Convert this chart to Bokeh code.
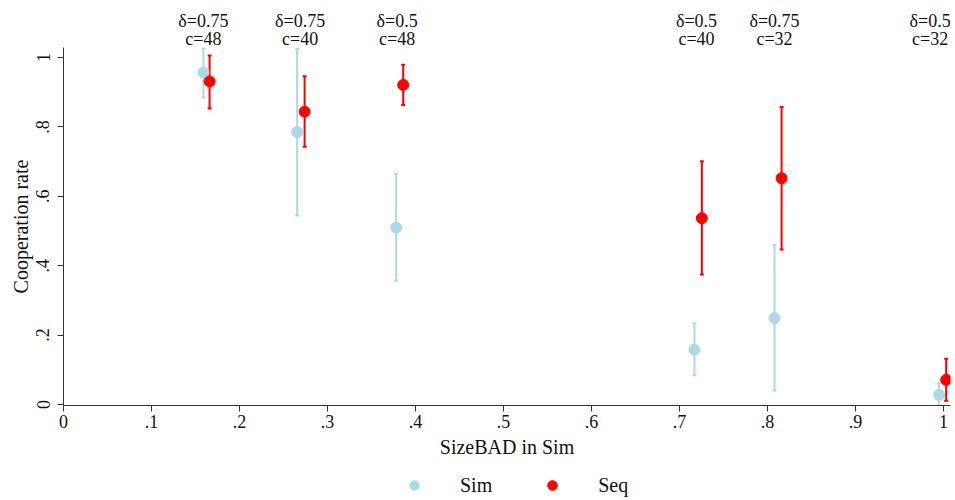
from bokeh.plotting import figure
from bokeh.layouts import column
from bokeh.models import (Range1d, Whisker, TeeHead, ColumnDataSource, Legend,
                          LegendItem, FixedTicker)
from bokeh.embed import file_html
from bokeh.resources import INLINE
from bokeh.core.properties import value

# ---- data ----
sizebad_sim = [0.159, 0.2655, 0.378, 0.717, 0.808, 0.995]
coop_sim = [0.957, 0.785, 0.510, 0.158, 0.249, 0.028]
sim_lo = [0.885, 0.545, 0.357, 0.084, 0.040, -0.007]
sim_hi = [1.027, 1.025, 0.665, 0.234, 0.460, 0.063]

sizebad_seq = [0.166, 0.274, 0.386, 0.7254, 0.816, 1.003]
coop_seq = [0.931, 0.844, 0.921, 0.537, 0.652, 0.071]
seq_lo = [0.853, 0.743, 0.863, 0.375, 0.447, 0.011]
seq_hi = [1.006, 0.946, 0.979, 0.701, 0.857, 0.132]

delta_labels = ["δ=0.75", "δ=0.75", "δ=0.5", "δ=0.5", "δ=0.75", "δ=0.5"]
c_labels = ["c=48", "c=40", "c=48", "c=40", "c=32", "c=32"]

x_ticks = [0, 0.1, 0.2, 0.3, 0.4, 0.5, 0.6, 0.7, 0.8, 0.9, 1.0]
x_tick_labels = ["0", ".1", ".2", ".3", ".4", ".5", ".6", ".7", ".8", ".9", "1"]
y_ticks = [0, 0.2, 0.4, 0.6, 0.8, 1.0]
y_tick_labels = ["0", ".2", ".4", ".6", ".8", "1"]

# ---- style ----
FONT = "Liberation Serif"
SIM_COLOR = "#add8e6"
SEQ_COLOR = "#ff0000"
AXIS_COLOR = "#333333"
TEXT_COLOR = "#111111"
W = 955
LEFT, RIGHT = 63, 5
TOP_H = 47
FRAME_H = 358
BOTTOM_H = 57
LEG_H = 36

PX = 347.0                 # pixels per unit on the y axis
Y0 = -1.0 / PX
Y1 = (FRAME_H - 1) / PX
x_range = Range1d(0, 1.00795)


def bare(fig):
    fig.xgrid.visible = False
    fig.ygrid.visible = False
    fig.outline_line_color = None
    return fig


# ---- top strip with the delta / c annotations ----
top = bare(figure(width=W, height=TOP_H, output_backend="svg",
                  toolbar_location=None, x_axis_location=None,
                  y_axis_location=None, x_range=x_range,
                  y_range=Range1d(0, TOP_H), min_border_left=LEFT,
                  min_border_right=RIGHT, min_border_top=0,
                  min_border_bottom=0, background_fill_color="white",
                  border_fill_color="white"))
lab_src = ColumnDataSource(dict(x=sizebad_sim, d=delta_labels, c=c_labels))
lab_src.data["xo"] = [0, 3, 1, 2, 0, -9]
for col_name, yy in (("d", TOP_H - 20), ("c", TOP_H - 38)):
    top.text(x="x", y=yy, text=col_name, source=lab_src, x_offset="xo",
             text_font=value(FONT), text_font_size="18px", text_align="center",
             text_baseline="alphabetic", text_color=TEXT_COLOR)

# ---- main chart ----
p = bare(figure(width=W, height=FRAME_H + BOTTOM_H,
                x_range=x_range, y_range=Range1d(Y0, Y1),
                output_backend="svg", toolbar_location=None,
                min_border_left=LEFT, min_border_right=RIGHT, min_border_top=0,
                min_border_bottom=BOTTOM_H, background_fill_color="white",
                border_fill_color="white"))

for ax in (p.xaxis[0], p.yaxis[0]):
    ax.axis_line_color = AXIS_COLOR
    ax.major_tick_line_color = AXIS_COLOR
    ax.minor_tick_line_color = None
    ax.major_tick_in = 0
    ax.major_tick_out = 6
    ax.major_label_text_font = FONT
    ax.major_label_text_font_size = "18px"
    ax.major_label_text_color = TEXT_COLOR
    ax.axis_label_text_font = FONT
    ax.axis_label_text_font_size = "20px"
    ax.axis_label_text_font_style = "normal"
    ax.axis_label_text_color = TEXT_COLOR

p.xaxis.ticker = FixedTicker(ticks=x_ticks)
p.xaxis.major_label_overrides = {t: l for t, l in zip(x_ticks, x_tick_labels)}
p.xaxis.axis_label = "SizeBAD in Sim"
p.xaxis.major_label_standoff = 3
p.xaxis.axis_label_standoff = 5

p.yaxis.ticker = FixedTicker(ticks=y_ticks)
p.yaxis.major_label_overrides = {t: l for t, l in zip(y_ticks, y_tick_labels)}
p.yaxis.axis_label = "Cooperation rate"
p.yaxis.major_label_orientation = "vertical"
p.yaxis.major_label_standoff = 8
p.yaxis.axis_label_standoff = 2

sim_src = ColumnDataSource(dict(x=sizebad_sim, y=coop_sim, lo=sim_lo, hi=sim_hi))
seq_src = ColumnDataSource(dict(x=sizebad_seq, y=coop_seq, lo=seq_lo, hi=seq_hi))

for src, col in ((sim_src, SIM_COLOR), (seq_src, SEQ_COLOR)):
    w = Whisker(source=src, base="x", lower="lo", upper="hi", dimension="height",
                line_color=col, line_width=2,
                upper_head=TeeHead(size=4, line_color=col, line_width=2),
                lower_head=TeeHead(size=4, line_color=col, line_width=2))
    p.add_layout(w)

r_sim = p.scatter("x", "y", source=sim_src, size=11, color=SIM_COLOR)
r_seq = p.scatter("x", "y", source=seq_src, size=11, color=SEQ_COLOR)

# ---- legend strip ----
lg = bare(figure(width=W, height=LEG_H, output_backend="svg",
                 toolbar_location=None, x_axis_location=None,
                 y_axis_location=None, x_range=Range1d(0, 1),
                 y_range=Range1d(10, 11), min_border_left=LEFT,
                 min_border_right=RIGHT, min_border_top=0, min_border_bottom=0,
                 background_fill_color="white", border_fill_color="white"))
k_sim = lg.scatter(x=sizebad_sim[:1], y=coop_sim[:1], size=11, color=SIM_COLOR)
k_seq = lg.scatter(x=sizebad_seq[:1], y=coop_seq[:1], size=11, color=SEQ_COLOR)
legend = Legend(items=[LegendItem(label="Sim", renderers=[k_sim]),
                       LegendItem(label="Seq", renderers=[k_seq])],
                orientation="horizontal", location=(339, 1),
                border_line_color=None, background_fill_alpha=0,
                padding=0, margin=0, spacing=48, label_standoff=34,
                glyph_width=24, glyph_height=24, label_height=24,
                label_text_font=FONT, label_text_font_size="20px",
                label_text_color=TEXT_COLOR)
lg.add_layout(legend, "center")

layout = column(top, p, lg, spacing=0)
open("out.html", "w").write(file_html(layout, INLINE))
